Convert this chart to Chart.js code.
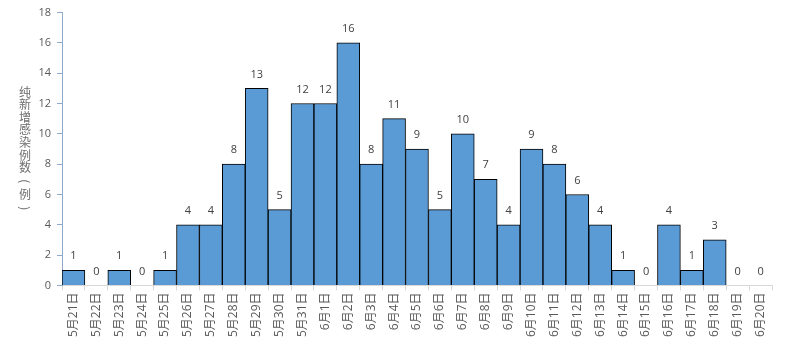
<!DOCTYPE html>
<html>
<head>
<meta charset="utf-8">
<script src="https://cdn.jsdelivr.net/npm/chart.js@4/dist/chart.umd.min.js"></script>
<style>
  html, body { margin: 0; padding: 0; background: #fff; }
  #wrap { width: 786px; height: 344px; }
</style>
</head>
<body>
<div id="wrap"><canvas id="plot1" width="786" height="344"></canvas></div>
<script>
var dias = ['5月21日','5月22日','5月23日','5月24日','5月25日','5月26日','5月27日','5月28日','5月29日','5月30日',
            '5月31日','6月1日','6月2日','6月3日','6月4日','6月5日','6月6日','6月7日','6月8日','6月9日',
            '6月10日','6月11日','6月12日','6月13日','6月14日','6月15日','6月16日','6月17日','6月18日','6月19日','6月20日'];
var casos = [1,0,1,0,1,4,4,8,13,5,12,12,16,8,11,9,5,10,7,4,9,8,6,4,1,0,4,1,3,0,0];
var titulo_y = ['纯','新','增','感','染','例','数','(','例',')'];
var fonte = "'Open Sans', 'Noto Sans CJK SC', sans-serif";
var fonte_cjk = "'Noto Sans CJK SC', sans-serif";

// rotulos em cima das barras
var rotulos = {
    id: 'rotulos',
    afterDatasetsDraw: function (chart) {
        var ctx = chart.ctx;
        var meta = chart.getDatasetMeta(0);
        ctx.save();
        ctx.font = '11px ' + fonte;
        ctx.fillStyle = '#404040';
        ctx.textAlign = 'center';
        ctx.textBaseline = 'middle';
        meta.data.forEach(function (bar, i) {
            ctx.fillText(String(casos[i]), bar.x, bar.y - 14);
        });
        ctx.restore();
    }
};

// titulo vertical do eixo y (um caractere por linha, parenteses girados)
var tituloY = {
    id: 'tituloY',
    afterDraw: function (chart) {
        var ctx = chart.ctx;
        ctx.save();
        ctx.font = '12px ' + fonte_cjk;
        ctx.fillStyle = '#6E6E6E';
        ctx.textAlign = 'center';
        ctx.textBaseline = 'middle';
        var y = 92;
        titulo_y.forEach(function (c) {
            if (c === '(' || c === ')') {
                y += 1;
                ctx.save();
                ctx.translate(25, y);
                ctx.rotate(Math.PI / 2);
                ctx.fillText(c, 0, 0);
                ctx.restore();
                y += 13.5;
            } else {
                ctx.fillText(c, 25, y);
                y += 12.6;
            }
        });
        ctx.restore();
    }
};

var dados =
{
    type: 'bar',
    data:
    {
        labels: dias,
        datasets:
            [
                {
                    label: '纯新增感染例数',
                    data: casos,
                    backgroundColor: '#5B9BD5',
                    borderColor: '#000000',
                    borderWidth: 1,
                    barPercentage: 1,
                    categoryPercentage: 1
                }
            ]
    },
    options:
    {
        responsive: false,
        animation: false,
        layout: { padding: { top: 12, right: 14, left: 0, bottom: 5 } },
        plugins: { legend: { display: false }, tooltip: { enabled: false } },
        scales:
        {
            x: {
                offset: true,
                grid: { offset: true, drawOnChartArea: false, color: '#D9D9D9', tickLength: 5 },
                border: { color: '#D9D9D9' },
                ticks: { minRotation: 90, maxRotation: 90, color: '#595959', font: { size: 12, family: fonte }, padding: 2, autoSkip: false }
            },
            y: {
                min: 0,
                max: 18,
                afterFit: function (s) { s.width = 62; },
                grid: { drawOnChartArea: false, color: '#8EA9C9', tickLength: 5 },
                border: { color: '#8EA9C9' },
                ticks: { stepSize: 2, color: '#595959', font: { size: 11, family: fonte }, padding: 6 }
            }
        }
    },
    plugins: [rotulos, tituloY]
};
var grafico = new Chart(document.getElementById('plot1'), dados);
</script>
</body>
</html>
